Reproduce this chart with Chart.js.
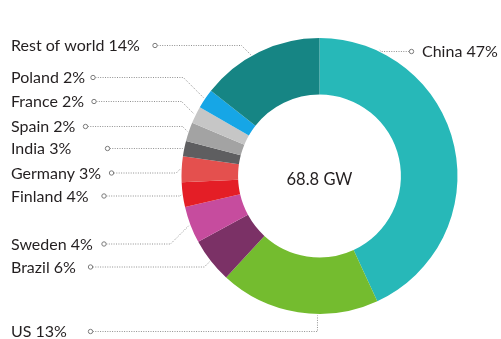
<!DOCTYPE html>
<html>
<head>
<meta charset="utf-8">
<script src="https://cdn.jsdelivr.net/npm/chart.js@4"></script>
<style>
html,body{margin:0;padding:0;background:#fff;}
#wrap{width:501px;height:339px;position:relative;}
</style>
</head>
<body>
<div id="wrap"><canvas id="c" width="501" height="339"></canvas></div>
<script>
// ---- data ----
const categories = ["China","US","Brazil","Sweden","Finland","Germany","India","Spain","France","Poland","Rest of world"];
const shareLabels = ["47%","13%","6%","4%","4%","3%","3%","2%","2%","2%","14%"];
const sliceValues = [43.1,18.7,5.25,4.3,2.9,3.0,1.8,2.2,2.0,2.3,14.4];
const totalLabel = "68.8 GW";

// ---- styles / layout ----
const colors = ["#27B8B8","#74BC2F","#7B3166","#C64C9E","#E41E26","#E4504E","#5E5E60","#A3A3A3","#C6C6C6","#16A6E6","#168584"];
// label layout: [textX, textY(middle), markerX, side, anchorFraction, mode]
const labelLayout = [
  [422, 51.5, 411.5, 'R', 0.165, 'diag'], // China
  [11, 331.5, 90.5, 'L', 0.38, 'vert'],   // US
  [11, 267, 90.5, 'L', 0.5, 'diag'],      // Brazil
  [11, 244, 104, 'L', 0.5, 'diag'],       // Sweden
  [11, 196, 104, 'L', 0.5, 'diag'],       // Finland
  [11, 173, 111.5, 'L', 0.5, 'diag'],     // Germany
  [11, 148.5, 107.5, 'L', 0.5, 'diag'],   // India
  [11, 126.5, 85.5, 'L', 0.5, 'diag'],    // Spain
  [11, 101.5, 94, 'L', 0.5, 'diag'],      // France
  [11, 77.5, 93, 'L', 0.5, 'diag'],       // Poland
  [11, 45.5, 155, 'L', 0.43, 'diag']      // Rest of world
];
const FONT = '16px "Lato", "Open Sans", sans-serif';

const leaders = {
  id: 'leaders',
  afterDraw(chart) {
    const ctx = chart.ctx;
    const meta = chart.getDatasetMeta(0);
    ctx.save();
    meta.data.forEach((arc, i) => {
      const [tx, ty, mx, side, frac, mode] = labelLayout[i];
      const a = arc.startAngle + (arc.endAngle - arc.startAngle) * frac;
      const r = arc.outerRadius + 1.5;
      const ax = arc.x + Math.cos(a) * r;
      const ay = arc.y + Math.sin(a) * r;
      const dy = Math.abs(ay - ty);
      let ex;
      if (mode === 'vert') ex = ax;
      else ex = side === 'L' ? ax - dy : ax + dy;
      const sx = side === 'L' ? mx + 2.4 : mx - 2.4;
      ctx.strokeStyle = '#909090';
      ctx.lineWidth = 1;
      ctx.setLineDash([1, 1.4]);
      ctx.beginPath();
      ctx.moveTo(sx, ty);
      ctx.lineTo(ex, ty);
      ctx.lineTo(ax, ay);
      ctx.stroke();
      ctx.setLineDash([]);
      ctx.strokeStyle = '#7a7a7a';
      ctx.beginPath();
      ctx.arc(mx, ty, 2.2, 0, Math.PI * 2);
      ctx.fillStyle = '#fff';
      ctx.fill();
      ctx.stroke();
      ctx.fillStyle = '#231f20';
      ctx.font = FONT;
      ctx.textAlign = 'left';
      ctx.textBaseline = 'middle';
      ctx.fillText(categories[i] + ' ' + shareLabels[i], tx, ty + 0.5);
    });
    // center total
    const c = meta.data[0];
    ctx.font = '16.5px "Lato", "Open Sans", sans-serif';
    ctx.textAlign = 'center';
    ctx.textBaseline = 'middle';
    ctx.fillStyle = '#231f20';
    ctx.fillText(totalLabel, c.x, c.y + 4);
    ctx.restore();
  }
};

new Chart(document.getElementById('c'), {
  type: 'doughnut',
  data: {
    labels: categories,
    datasets: [{
      data: sliceValues,
      backgroundColor: colors,
      borderWidth: 0,
      hoverOffset: 0
    }]
  },
  options: {
    responsive: false,
    animation: false,
    cutout: '59%',
    layout: { padding: { left: 181, right: 43, top: 38, bottom: 25 } },
    plugins: { legend: { display: false }, tooltip: { enabled: false } },
    events: []
  },
  plugins: [leaders]
});
</script>
</body>
</html>
